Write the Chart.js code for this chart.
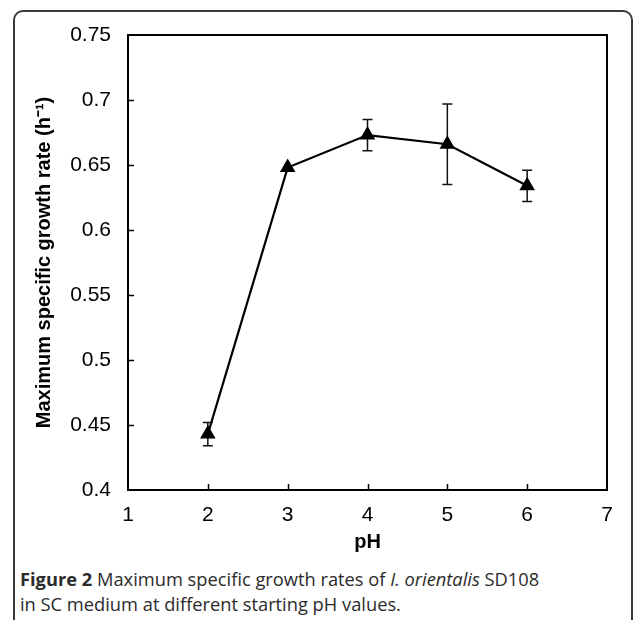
<!DOCTYPE html>
<html>
<head>
<meta charset="utf-8">
<script src="https://cdn.jsdelivr.net/npm/chart.js@4.4.1/dist/chart.umd.min.js"></script>
<style>
    html, body { margin: 0; padding: 0; background: #fff; }
    body { width: 635px; height: 620px; position: relative; overflow: hidden; }
    #frame {
        position: absolute; left: 13px; top: 10px; width: 620px; height: 640px;
        border: 2px solid #3a3a3a; border-radius: 10px; box-sizing: border-box;
    }
    #growthChart { position: absolute; left: 0; top: 0; }
    #caption {
        position: absolute; left: 20px; top: 566px; width: 610px;
        font-family: "Open Sans", sans-serif; font-size: 18.3px; line-height: 25px; color: #2b2b2b;
    }
    #caption b { font-weight: 700; }
</style>
</head>
<body>
<div id="frame"></div>
<canvas id="growthChart" width="635" height="560"></canvas>
<div id="caption"><b>Figure 2</b> Maximum specific growth rates of <i>I. orientalis</i> SD108<br>in SC medium at different starting pH values.</div>
<script>
// values
const phValues = [2, 3, 4, 5, 6];
const growthRates = [0.443, 0.648, 0.673, 0.666, 0.634];
const errorSizes = [0.009, 0, 0.012, 0.031, 0.012];
const xTickValues = [1, 2, 3, 4, 5, 6, 7];
const yTickValues = [0.4, 0.45, 0.5, 0.55, 0.6, 0.65, 0.7, 0.75];

// error bars, inward tick marks and the box around the plot
const plotDecor = {
    id: 'plotDecor',
    beforeDatasetsDraw(chart) {
        const { ctx, scales: { x, y } } = chart;
        ctx.save();
        ctx.strokeStyle = '#111';
        ctx.lineWidth = 1.5;
        phValues.forEach((ph, i) => {
            if (!errorSizes[i]) return;
            const px = x.getPixelForValue(ph);
            const top = y.getPixelForValue(growthRates[i] + errorSizes[i]);
            const bottom = y.getPixelForValue(growthRates[i] - errorSizes[i]);
            ctx.beginPath();
            ctx.moveTo(px, top);
            ctx.lineTo(px, bottom);
            ctx.moveTo(px - 5, top);
            ctx.lineTo(px + 5, top);
            ctx.moveTo(px - 5, bottom);
            ctx.lineTo(px + 5, bottom);
            ctx.stroke();
        });
        ctx.restore();
    },
    afterDraw(chart) {
        const { ctx, chartArea: a, scales: { x, y } } = chart;
        ctx.save();
        ctx.strokeStyle = '#000';
        ctx.lineWidth = 1.5;
        ctx.beginPath();
        yTickValues.slice(1, -1).forEach(v => {
            const py = Math.round(y.getPixelForValue(v)) + 0.5;
            ctx.moveTo(a.left, py);
            ctx.lineTo(a.left + 6, py);
        });
        xTickValues.slice(1, -1).forEach(v => {
            const px = Math.round(x.getPixelForValue(v)) + 0.5;
            ctx.moveTo(px, a.bottom);
            ctx.lineTo(px, a.bottom - 6);
        });
        ctx.stroke();
        ctx.lineWidth = 2;
        ctx.strokeRect(a.left, a.top, a.right - a.left, a.bottom - a.top);
        ctx.restore();
    }
};

function buildChart() {
    const ctx = document.getElementById('growthChart').getContext('2d');
    return new Chart(ctx, {
        type: 'scatter',
        data: {
            datasets: [{
                label: 'Maximum specific growth rate',
                data: phValues.map((ph, i) => ({ x: ph, y: growthRates[i] })),
                showLine: true,
                borderColor: '#000',
                borderWidth: 2.2,
                backgroundColor: '#000',
                pointStyle: 'triangle',
                pointRadius: 9,
                pointBorderWidth: 0
            }]
        },
        options: {
            responsive: false,
            animation: false,
            devicePixelRatio: 1,
            layout: { padding: { top: 35, right: 28, left: 0, bottom: 0 } },
            plugins: {
                legend: { display: false },
                tooltip: { enabled: false }
            },
            scales: {
                x: {
                    type: 'linear',
                    min: 1,
                    max: 7,
                    afterBuildTicks: scale => { scale.ticks = xTickValues.map(v => ({ value: v })); },
                    afterFit: scale => { scale.height = 70; },
                    grid: { display: false },
                    border: { display: false },
                    ticks: {
                        color: '#000',
                        padding: 5,
                        font: { family: 'Liberation Sans', size: 21 }
                    },
                    title: {
                        display: true,
                        text: 'pH',
                        color: '#000',
                        padding: { top: 0, bottom: 6 },
                        font: { family: 'Liberation Sans', size: 20, weight: 'bold', lineHeight: 1.2 }
                    }
                },
                y: {
                    min: 0.4,
                    max: 0.75,
                    afterBuildTicks: scale => { scale.ticks = yTickValues.map(v => ({ value: v })); },
                    afterFit: scale => { scale.width = 128; },
                    grid: { display: false },
                    border: { display: false },
                    ticks: {
                        color: '#000',
                        padding: 9,
                        callback: v => String(v),
                        font: { family: 'Liberation Sans', size: 21 }
                    },
                    title: {
                        display: true,
                        text: 'Maximum specific growth rate (h\u207B\u00B9)',
                        color: '#000',
                        padding: { top: 32, bottom: 0 },
                        font: { family: 'Liberation Sans', size: 20, weight: 'bold', lineHeight: 1.2 }
                    }
                }
            }
        },
        plugins: [plotDecor]
    });
}

try {
    window.growthChart = buildChart();
} catch (error) {
    console.error('Error building chart:', error);
}
</script>
</body>
</html>
